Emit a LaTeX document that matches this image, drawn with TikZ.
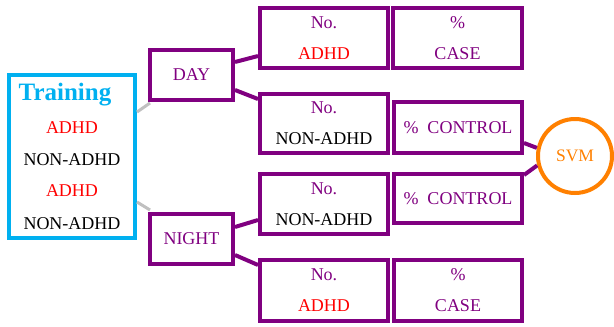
\documentclass[tikz,border=0pt]{standalone}
\usepackage{fontspec}
\setmainfont{Liberation Serif}
\definecolor{pur}{HTML}{800080}
\definecolor{cy}{HTML}{00B0F0}
\definecolor{org}{HTML}{FF8000}
\definecolor{gr}{HTML}{C0C0C0}
\definecolor{rd}{HTML}{FF0000}
\begin{document}
\begin{tikzpicture}[x=1pt,y=-1pt,
  box/.style={draw=pur,line width=4pt,rectangle,inner sep=0pt,align=center,
    font=\fontsize{18}{31}\selectfont,text=pur},
  lbl/.style={inner sep=0pt,font=\fontsize{18}{22}\selectfont},
  conn/.style={draw=pur,line width=4pt},
  gconn/.style={draw=gr,line width=3pt}]
\useasboundingbox (0,0) rectangle (614,327);
% training
\node[draw=cy,line width=4pt,minimum width=126pt,minimum height=163pt,inner sep=0pt] (train) at (72,156.5) {};
\node[lbl,font=\fontsize{25}{28}\selectfont\bfseries,text=cy] (t0) at (65,95) {Training};
\node[lbl,text=rd] (t1) at (72,128) {ADHD};
\node[lbl] (t2) at (72,160) {NON-ADHD};
\node[lbl,text=rd] (t3) at (72,191) {ADHD};
\node[lbl] (t4) at (72,224) {NON-ADHD};
% day / night
\node[box,minimum width=83pt,minimum height=50pt] (day) at (191.5,75) {DAY};
\node[box,minimum width=83pt,minimum height=50pt] (night) at (191.5,239) {NIGHT};
% right boxes
\node[box,minimum width=128pt,minimum height=60pt] (n1) at (324,38) {No.\\\textcolor{rd}{ADHD}};
\node[box,minimum width=129pt,minimum height=60pt] (c1) at (457.5,38) {\%\\CASE};
\node[box,minimum width=128pt,minimum height=59pt] (n2) at (324,123.5) {No.\\\textcolor{black}{NON-ADHD}};
\node[box,minimum width=128pt,minimum height=51pt] (c2) at (458,127.5) {\%~~CONTROL};
\node[box,minimum width=128pt,minimum height=60pt] (n3) at (324,204) {No.\\\textcolor{black}{NON-ADHD}};
\node[box,minimum width=128pt,minimum height=49pt] (c3) at (458,198.5) {\%~~CONTROL};
\node[box,minimum width=128pt,minimum height=61pt] (n4) at (324,290.5) {No.\\\textcolor{rd}{ADHD}};
\node[box,minimum width=128pt,minimum height=61pt] (c4) at (458,290.5) {\%\\CASE};
% svm
\node[draw=org,line width=4pt,circle,minimum size=74pt,inner sep=0pt,text=org,
  font=\fontsize{17.5}{20}\selectfont] (svm) at (575,156) {SVM};
% connectors
\draw[gconn] ([yshift=44.5pt]train.east) -- ([xshift=2pt,yshift=-1pt]day.south west);
\draw[gconn] ([yshift=-45.5pt]train.east) -- ([xshift=2pt,yshift=2pt]night.north west);
\draw[conn] ([yshift=13pt]day.east) -- ([yshift=-18pt]n1.west);
\draw[conn] ([yshift=-15pt]day.east) -- ([yshift=24.5pt]n2.west);
\draw[conn] ([yshift=12pt]night.east) -- ([yshift=-16pt]n3.west);
\draw[conn] ([yshift=-16pt]night.east) -- ([yshift=25.5pt]n4.west);
\draw[conn] ([yshift=-15.5pt]c2.east) -- (svm.168);
\draw[conn] ([yshift=23.5pt]c3.east) -- (svm.194);
\end{tikzpicture}
\end{document}
